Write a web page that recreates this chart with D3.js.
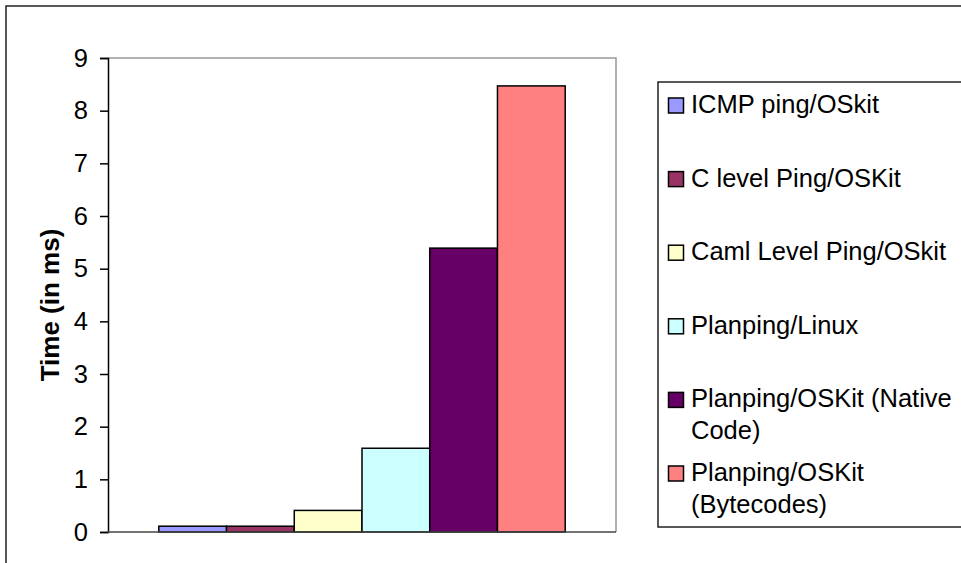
<!DOCTYPE html>
<html>
<head>
<meta charset="utf-8">
<script src="https://cdn.jsdelivr.net/npm/d3@7"></script>
<style>
  html, body { margin: 0; padding: 0; background: #fff; }
  svg { display: block; font-family: Arial, "Liberation Sans", sans-serif; }
</style>
</head>
<body>
<svg id="chart" width="961" height="563"></svg>
<script>
// Round-trip ping times for each implementation (ms)
const seriesNames = [
  "ICMP ping/OSkit",
  "C level Ping/OSKit",
  "Caml Level Ping/OSkit",
  "Planping/Linux",
  "Planping/OSKit (Native Code)",
  "Planping/OSKit (Bytecodes)"
];
const seriesValues = [0.11, 0.11, 0.41, 1.59, 5.39, 8.47];
const seriesColors = ["#9999FF", "#993366", "#FFFFCC", "#CCFFFF", "#660066", "#FF8080"];
const yTicks = [0, 1, 2, 3, 4, 5, 6, 7, 8, 9];
const yTitle = "Time (in ms)";

const svg = d3.select("#chart");

// Outer chart frame (runs off the right and bottom edges)
svg.append("rect")
  .attr("x", 6).attr("y", 6)
  .attr("width", 1000).attr("height", 600)
  .attr("fill", "#fff").attr("stroke", "#222").attr("stroke-width", 1.5);

const plot = { left: 108, right: 616, top: 58, bottom: 532 };

const y = d3.scaleLinear().domain([0, 9]).range([plot.bottom, plot.top]);

// One category holding all six series; the group fills 80% of the band
const x0 = d3.scaleBand().domain(["all"]).range([plot.left, plot.right]).paddingInner(0).paddingOuter(0.125);
const x1 = d3.scaleBand().domain(d3.range(seriesNames.length)).range([0, x0.bandwidth()]).padding(0);

// Plot area frame: grey top and right edges
svg.append("path")
  .attr("d", `M${plot.left},${plot.top}H${plot.right}V${plot.bottom}`)
  .attr("fill", "none").attr("stroke", "#999").attr("stroke-width", 1.5);

// Bars
svg.append("g").selectAll("rect")
  .data(seriesValues)
  .join("rect")
  .attr("x", (d, i) => x0("all") + x1(i))
  .attr("y", d => y(d))
  .attr("width", x1.bandwidth())
  .attr("height", d => y(0) - y(d))
  .attr("fill", (d, i) => seriesColors[i])
  .attr("stroke", "#000")
  .attr("stroke-width", 1.5);

// Y axis
const yAxis = svg.append("g")
  .attr("transform", `translate(${plot.left},0)`)
  .call(d3.axisLeft(y).tickValues(yTicks).tickSize(8).tickPadding(12).tickFormat(d3.format("d")));
yAxis.select(".domain").attr("stroke", "#000").attr("stroke-width", 1.5);
yAxis.selectAll(".tick line").attr("stroke", "#000").attr("stroke-width", 1.5);
yAxis.selectAll(".tick text")
  .attr("font-size", "25.5px").attr("font-family", "Arial, 'Liberation Sans', sans-serif")
  .attr("fill", "#000");

// X axis baseline
svg.append("line")
  .attr("x1", plot.left).attr("x2", plot.right)
  .attr("y1", y(0)).attr("y2", y(0))
  .attr("stroke", "#444").attr("stroke-width", 1.5);

// Y axis title
svg.append("text")
  .attr("transform", `translate(59,305) rotate(-90)`)
  .attr("text-anchor", "middle")
  .attr("font-size", "26px").attr("font-weight", "bold")
  .attr("fill", "#000")
  .text(yTitle);

// Legend
const legend = { x: 658, y: 82, bottom: 527 };
svg.append("rect")
  .attr("x", legend.x).attr("y", legend.y)
  .attr("width", 400).attr("height", legend.bottom - legend.y)
  .attr("fill", "#fff").attr("stroke", "#222").attr("stroke-width", 1.5);

const firstBaseline = 113, entryStep = 73.6, lineHeight = 32, maxTextWidth = 266;
const textX = 691;

seriesNames.forEach((name, i) => {
  const base = firstBaseline + i * entryStep;
  const g = svg.append("g");
  g.append("rect")
    .attr("x", 668.5).attr("y", base - 15)
    .attr("width", 15).attr("height", 15)
    .attr("fill", seriesColors[i]).attr("stroke", "#000").attr("stroke-width", 1.5);

  const t = g.append("text")
    .attr("x", textX).attr("y", base)
    .attr("font-size", "25.5px").attr("fill", "#000");

  // simple word wrap to the legend width
  const words = name.split(" ");
  let line = [];
  let lineNo = 0;
  let tspan = t.append("tspan").attr("x", textX).attr("y", base);
  words.forEach(w => {
    line.push(w);
    tspan.text(line.join(" "));
    if (tspan.node().getComputedTextLength() > maxTextWidth && line.length > 1) {
      line.pop();
      tspan.text(line.join(" "));
      line = [w];
      lineNo++;
      tspan = t.append("tspan").attr("x", textX).attr("y", base + lineNo * lineHeight).text(w);
    }
  });
});
</script>
</body>
</html>
